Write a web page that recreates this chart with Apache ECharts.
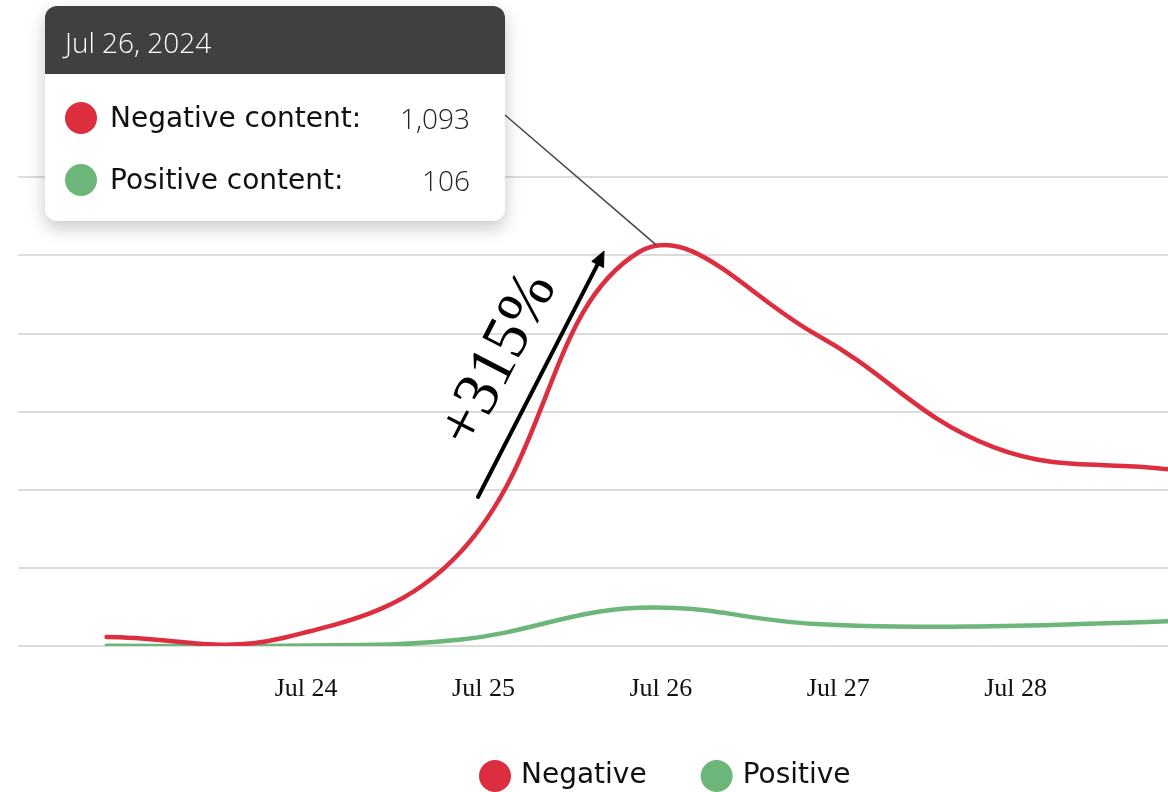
<!DOCTYPE html>
<html><head><meta charset="utf-8">
<script src="https://cdn.jsdelivr.net/npm/echarts@6/dist/echarts.min.js"></script>
<style>html,body{margin:0;padding:0;background:#fff}#c{width:1168px;height:792px}</style>
</head><body><div id="c"></div>
<script>
// ---- data ----
const times = ['2024-07-22T21:00','2024-07-23T21:00','2024-07-24T21:00','2024-07-25T21:00','2024-07-26T21:00','2024-07-27T21:00','2024-07-28T21:00'];
const negative = [25, 23, 263, 1093, 865, 552, 490];
const positive = [1, 1, 18, 106, 61, 55, 69];
const seriesNames = ['Negative', 'Positive'];
const tooltipTitle = 'Jul 26, 2024';
const tooltipLabels = ['Negative content:', 'Positive content:'];
const changeLabel = '+315%';
const peakIndex = 3;
const hiddenLabelDays = [23];
const monthNames = ['Jan','Feb','Mar','Apr','May','Jun','Jul','Aug','Sep','Oct','Nov','Dec'];

const RED = '#DC2E3F', GREEN = '#6DB679';
const DAY = 864e5;
const ref = new Date(2024, 6, 24).getTime();
const toTs = s => new Date(s).getTime();
const negData = times.map((t, i) => [toTs(t), negative[i]]);
const posData = times.map((t, i) => [toTs(t), positive[i]]);
const fmt = n => n.toLocaleString('en-US');

// cardinal spline (tension-based) through the pixel points given by the axes
function splinePath(pts, t) {
  const cps = pts.map((p, i) => {
    const prev = pts[i - 1] || p, next = pts[i + 1] || p;
    const d01 = Math.hypot(p[0] - prev[0], p[1] - prev[1]);
    const d12 = Math.hypot(next[0] - p[0], next[1] - p[1]);
    const sum = d01 + d12 || 1;
    const fa = t * d01 / sum, fb = t * d12 / sum;
    const vx = next[0] - prev[0], vy = next[1] - prev[1];
    return {pre: [p[0] - fa * vx, p[1] - fa * vy], post: [p[0] + fb * vx, p[1] + fb * vy]};
  });
  let d = 'M' + pts[0][0] + ',' + pts[0][1];
  for (let i = 1; i < pts.length; i++) {
    d += 'C' + cps[i - 1].post[0] + ',' + cps[i - 1].post[1] + ' ' + cps[i].pre[0] + ',' + cps[i].pre[1] + ' ' + pts[i][0] + ',' + pts[i][1];
  }
  return d;
}
function lineSeries(name, data, color, z) {
  return {
    name: name, type: 'custom', data: data, clip: true, z: z,
    itemStyle: {color: color},
    renderItem: function (params, api) {
      if (params.dataIndex !== 0) return null;
      const pts = data.map(d => api.coord(d));
      return {type: 'path', shape: {pathData: splinePath(pts, 0.4)},
              style: {fill: 'none', stroke: color, lineWidth: 4.5, lineCap: 'round', lineJoin: 'round'}};
    }
  };
}

const chart = echarts.init(document.getElementById('c'), null, {renderer: 'canvas'});
chart.setOption({
  animation: false,
  color: [RED, GREEN],
  grid: {left: 18, right: 0, top: 177, bottom: 146, outerBoundsMode: 'none', containLabel: false},
  xAxis: {
    type: 'time',
    min: ref - 1.6243 * DAY,
    max: ref + 4.8593 * DAY,
    minInterval: DAY, maxInterval: DAY,
    axisLine: {show: false}, axisTick: {show: false}, splitLine: {show: false},
    axisLabel: {
      margin: 30, fontFamily: 'Liberation Serif', fontSize: 26, color: '#111',
      showMinLabel: false, showMaxLabel: false, hideOverlap: false,
      formatter: function (v) {
        const d = new Date(v);
        if (d.getHours() !== 0 || d.getMinutes() !== 0) return '';
        if (hiddenLabelDays.indexOf(d.getDate()) >= 0) return '';
        return monthNames[d.getMonth()] + ' ' + d.getDate();
      }
    }
  },
  yAxis: {
    type: 'value', min: 0, max: 1302, interval: 217,
    axisLabel: {show: false}, axisLine: {show: false}, axisTick: {show: false},
    splitLine: {lineStyle: {color: '#dcdcdc', width: 2}}
  },
  legend: {
    left: 479, top: 760, padding: 0, icon: 'circle', itemWidth: 32, itemHeight: 32, itemGap: 54,
    textStyle: {fontFamily: 'DejaVu Sans', fontSize: 28, color: '#111', padding: [0, 0, 0, 5]},
    data: seriesNames
  },
  series: [
    lineSeries(seriesNames[0], negData, RED, 3),
    lineSeries(seriesNames[1], posData, GREEN, 2)
  ]
});

// annotations
const peakPx = chart.convertToPixel({gridIndex: 0}, [negData[peakIndex][0] + 0.1 * DAY, negative[peakIndex] + 20]);
const tx = 45, ty = 6, tw = 460, th = 215;
chart.setOption({
  graphic: [
    {type: 'line', shape: {x1: tx + tw, y1: 115, x2: peakPx[0], y2: peakPx[1]}, style: {stroke: '#444', lineWidth: 1.5}, z: 50},
    {type: 'line', shape: {x1: 478, y1: 497, x2: 597.6, y2: 264.4}, style: {stroke: '#000', lineWidth: 4, lineCap: 'round'}, z: 50},
    {type: 'polygon', shape: {points: [[604, 251], [603.5, 267.5], [591.8, 261.4]]}, style: {fill: '#000', stroke: '#000', lineWidth: 1, lineJoin: 'round'}, z: 50},
    {type: 'text', x: 499, y: 360, rotation: 1.094,
     style: {text: changeLabel, fontFamily: 'Liberation Serif', fontSize: 64, fill: '#000', align: 'center', verticalAlign: 'middle'}, z: 50},
    {type: 'group', x: tx, y: ty, z: 100, children: [
      {type: 'rect', shape: {x: 0, y: 0, width: tw, height: th, r: 12},
       style: {fill: '#fff', shadowBlur: 18, shadowOffsetY: 7, shadowColor: 'rgba(0,0,0,0.22)'}},
      {type: 'rect', shape: {x: 0, y: 0, width: tw, height: 68, r: [12, 12, 0, 0]}, style: {fill: '#404040'}},
      {type: 'text', x: 20, y: 39, style: {text: tooltipTitle, fontFamily: 'Open Sans', fontWeight: 300, fontSize: 28, fill: '#fff', verticalAlign: 'middle'}},
      {type: 'circle', shape: {cx: 36, cy: 112, r: 16}, style: {fill: RED}},
      {type: 'circle', shape: {cx: 36, cy: 174, r: 16}, style: {fill: GREEN}},
      {type: 'text', x: 65, y: 114, style: {text: tooltipLabels[0], fontFamily: 'DejaVu Sans', fontSize: 28, fill: '#111', verticalAlign: 'middle'}},
      {type: 'text', x: 65, y: 176, style: {text: tooltipLabels[1], fontFamily: 'DejaVu Sans', fontSize: 28, fill: '#111', verticalAlign: 'middle'}},
      {type: 'text', x: 425, y: 115, style: {text: fmt(negative[peakIndex]), fontFamily: 'Open Sans', fontWeight: 300, fontSize: 28, fill: '#222', align: 'right', verticalAlign: 'middle'}},
      {type: 'text', x: 425, y: 177, style: {text: fmt(positive[peakIndex]), fontFamily: 'Open Sans', fontWeight: 300, fontSize: 28, fill: '#222', align: 'right', verticalAlign: 'middle'}}
    ]}
  ]
});
</script>
</body></html>
